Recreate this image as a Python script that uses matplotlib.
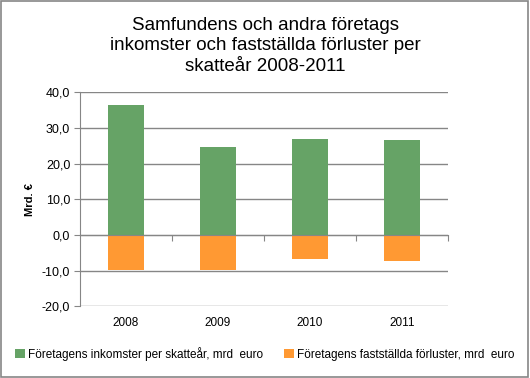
import matplotlib
matplotlib.use("Agg")
import matplotlib.pyplot as plt
from matplotlib.patches import Rectangle
import matplotlib.transforms as mtransforms

years = ["2008", "2009", "2010", "2011"]
income = [36.4, 24.6, 26.9, 26.6]
losses = [-9.8, -9.9, -6.7, -7.3]
yticks = [-20, -10, 0, 10, 20, 30, 40]
title = "Samfundens och andra företags\ninkomster och fastställda förluster per\nskatteår 2008-2011"
leg_income = "Företagens inkomster per skatteår, mrd  euro"
leg_loss = "Företagens fastställda förluster, mrd  euro"

green = "#66A366"
orange = "#FF9933"
grey = "#868686"

plt.rcParams['font.family'] = ['Liberation Sans', 'DejaVu Sans']

fig = plt.figure(figsize=(5.3, 3.78), dpi=100)
fig.patches.append(Rectangle((0.002, 0.003), 0.995, 0.994, transform=fig.transFigure,
                             fill=False, edgecolor=grey, linewidth=1.2))
ax = fig.add_axes([80/530, 1-306.4/378, (448-80)/530, (306.4-92.3)/378])

x = list(range(len(years)))
ax.bar(x, income, width=0.4, color=green, zorder=3, label=leg_income)
ax.bar(x, losses, width=0.4, color=orange, zorder=3, label=leg_loss)

ax.set_xlim(-0.5, 3.5)
ax.set_ylim(-20, 40)
ax.set_yticks(yticks)
ax.set_yticklabels([f"{v:.1f}".replace(".", ",") for v in yticks], fontsize=9)
ax.yaxis.grid(True, color=grey, linewidth=1, zorder=0)
ax.set_axisbelow(True)

for s in ["top", "right"]:
    ax.spines[s].set_visible(False)
ax.spines["left"].set_color(grey)
ax.spines["bottom"].set_color(grey)
ax.spines["bottom"].set_position(("data", 0))
ax.spines["bottom"].set_zorder(4)
ax.tick_params(axis="y", direction="out", length=4, color=grey, pad=3)
ax.set_xticks([0.5, 1.5, 2.5, 3.5])
ax.set_xticklabels([])
ax.tick_params(axis="x", direction="out", length=4, color=grey)

trans = mtransforms.blended_transform_factory(ax.transData, ax.transAxes)
for xi, yr in zip(x, years):
    ax.text(xi, -0.078, yr, transform=trans, ha="center", va="center", fontsize=8.5)

ax.set_ylabel("Mrd. €", fontsize=8, fontweight="bold", labelpad=5)

fig.text(0.5, 1-46/378, title, ha="center", va="center", fontsize=13.5, linespacing=1.3)

fig.legend(loc="center", bbox_to_anchor=(0.5, 1-354/378), ncol=2, frameon=False,
           fontsize=8.5, handlelength=0.8, handleheight=0.8, handletextpad=0.3,
           columnspacing=1.8)

fig.savefig("out.png", dpi=100)
